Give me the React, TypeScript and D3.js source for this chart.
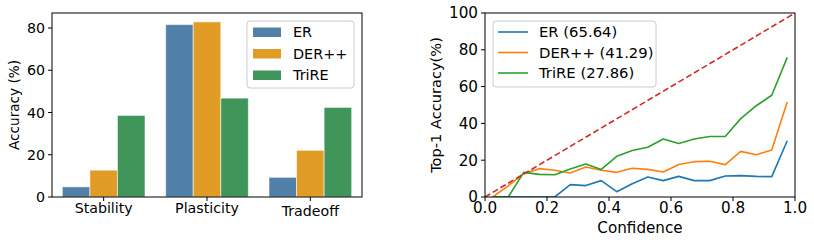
import React from 'react';
import * as d3 from 'd3';

// bar chart data
const groups = ['Stability', 'Plasticity', 'Tradeoff'];
const methods = ['ER', 'DER++', 'TriRE'];
const erBars = [4.8, 81.6, 9.3];
const derBars = [12.7, 82.9, 22.1];
const trireBars = [38.6, 46.8, 42.4];
const barColors = ['#5181a8', '#e09c24', '#40965a'];

// reliability diagram data
const binCenters = [0.025, 0.075, 0.125, 0.175, 0.225, 0.275, 0.325, 0.375, 0.425, 0.475,
    0.525, 0.575, 0.625, 0.675, 0.725, 0.775, 0.825, 0.875, 0.925, 0.975];
const erAcc = [0, 0, 0, 0, 0, 6.7, 6.2, 8.9, 2.9, 7.2, 10.9, 8.9, 11.2, 8.9, 8.9, 11.4, 11.6, 11.2, 11.1, 30.6];
const derAcc = [0, 6.1, 12.7, 15.4, 14.5, 13.0, 16.3, 14.5, 13.4, 15.6, 15.0, 13.6, 17.7, 19.2, 19.4, 17.6, 24.8, 23.0, 25.5, 51.6];
const trireAcc = [0, 0, 13.4, 12.3, 12.1, 15.2, 17.9, 15.0, 22.1, 25.3, 27.0, 31.5, 29.1, 31.5, 32.9, 32.9, 42.6, 49.6, 55.3, 75.9];
const lineLabels = ['ER (65.64)', 'DER++ (41.29)', 'TriRE (27.86)'];
const lineColors = ['#1f77b4', '#ff7f0e', '#2ca02c'];
const yTicksLeft = [0, 20, 40, 60, 80];
const yTicksRight = [0, 20, 40, 60, 80, 100];
const xTicksRight = [0, 0.2, 0.4, 0.6, 0.8, 1.0];

const FONT = 'DejaVu Sans, sans-serif';

const BarPanel: React.FC = () => {
    const left = 52, right = 362, top = 13, bottom = 197;
    const x = d3.scaleBand<string>().domain(groups).range([left, right]).paddingInner(0.2).paddingOuter(0.1);
    const xs = d3.scaleBand<string>().domain(methods).range([0, x.bandwidth()]);
    const y = d3.scaleLinear().domain([0, 87.1]).range([bottom, top]);
    const series = [erBars, derBars, trireBars];
    const fs = 14.2;

    return (
        <g fontFamily={FONT}>
            {groups.map((g, gi) => (
                <g key={g}>
                    {series.map((vals, si) => (
                        <rect key={si}
                            x={x(g)! + xs(methods[si])!}
                            y={y(vals[gi])}
                            width={xs.bandwidth()}
                            height={y(0) - y(vals[gi])}
                            fill={barColors[si]}
                            stroke="#fff" strokeOpacity={0.55} strokeWidth={1} />
                    ))}
                </g>
            ))}
            <rect x={left} y={top} width={right - left} height={bottom - top} fill="none" stroke="#000" strokeWidth={1} />
            {yTicksLeft.map(t => (
                <g key={t}>
                    <line x1={left - 4} x2={left} y1={y(t)} y2={y(t)} stroke="#000" />
                    <text x={left - 7} y={y(t)} dy="0.36em" textAnchor="end" fontSize={fs}>{t}</text>
                </g>
            ))}
            {groups.map((g, gi) => (
                <g key={g}>
                    <line x1={x(g)! + x.bandwidth() / 2} x2={x(g)! + x.bandwidth() / 2} y1={bottom} y2={bottom + 4} stroke="#000" />
                    {/* matplotlib centers labels vertically, so the one without descenders sits lower */}
                    <text x={x(g)! + x.bandwidth() / 2} y={gi === 2 ? 216 : 213} textAnchor="middle" fontSize={fs}>{g}</text>
                </g>
            ))}
            <text transform={`translate(19,${(top + bottom) / 2}) rotate(-90)`} textAnchor="middle" fontSize={13.6}>Accuracy (%)</text>
            <rect x={247} y={21} width={107} height={67} rx={3} fill="#fff" fillOpacity={0.8} stroke="#ccc" />
            {methods.map((m, i) => (
                <g key={m} transform={`translate(253,${32 + i * 21.5})`}>
                    <rect x={0} y={-4.5} width={28} height={9.5} fill={barColors[i]} />
                    <text x={40} y={0} dy="0.36em" fontSize={14.4}>{m}</text>
                </g>
            ))}
        </g>
    );
};

const LinePanel: React.FC = () => {
    const left = 485, right = 795, top = 13, bottom = 197;
    const x = d3.scaleLinear().domain([0, 1]).range([left, right]);
    const y = d3.scaleLinear().domain([0, 100]).range([bottom, top]);
    const series = [erAcc, derAcc, trireAcc];
    const fs = 15.2;
    const line = d3.line<number>().x((_, i) => x(binCenters[i])).y(v => y(v));

    return (
        <g fontFamily={FONT}>
            <defs>
                <clipPath id="clipR"><rect x={left} y={top} width={right - left} height={bottom - top} /></clipPath>
            </defs>
            <g clipPath="url(#clipR)">
                {series.map((s, i) => (
                    <path key={i} d={line(s)!} fill="none" stroke={lineColors[i]} strokeWidth={1.6} strokeLinejoin="round" />
                ))}
                <line x1={x(0)} y1={y(0)} x2={x(1)} y2={y(100)} stroke="#d62728" strokeWidth={1.6} strokeDasharray="6,3" />
            </g>
            <rect x={left} y={top} width={right - left} height={bottom - top} fill="none" stroke="#000" strokeWidth={1} />
            {yTicksRight.map(t => (
                <g key={t}>
                    <line x1={left - 4} x2={left} y1={y(t)} y2={y(t)} stroke="#000" />
                    <text x={left - 7} y={y(t)} dy="0.36em" textAnchor="end" fontSize={fs}>{t}</text>
                </g>
            ))}
            {xTicksRight.map(t => (
                <g key={t}>
                    <line x1={x(t)} x2={x(t)} y1={bottom} y2={bottom + 4} stroke="#000" />
                    <text x={x(t)} y={213} textAnchor="middle" fontSize={fs}>{t.toFixed(1)}</text>
                </g>
            ))}
            <text x={(left + right) / 2} y={233} textAnchor="middle" fontSize={fs}>Confidence</text>
            <text transform={`translate(441,${(top + bottom) / 2}) rotate(-90)`} textAnchor="middle" fontSize={14.6}>Top-1 Accuracy(%)</text>
            <rect x={493} y={21} width={163} height={66} rx={3} fill="#fff" fillOpacity={0.8} stroke="#ccc" />
            {lineLabels.map((l, i) => (
                <g key={l} transform={`translate(498,${32 + i * 20.5})`}>
                    <line x1={0} x2={30} y1={0} y2={0} stroke={lineColors[i]} strokeWidth={1.6} />
                    <text x={41} y={0} dy="0.36em" fontSize={14.8}>{l}</text>
                </g>
            ))}
        </g>
    );
};

export default function App() {
    return (
        <svg width={814} height={244} style={{ position: 'absolute', left: 0, top: 0, background: '#fff' }}>
            <BarPanel />
            <LinePanel />
        </svg>
    );
}
